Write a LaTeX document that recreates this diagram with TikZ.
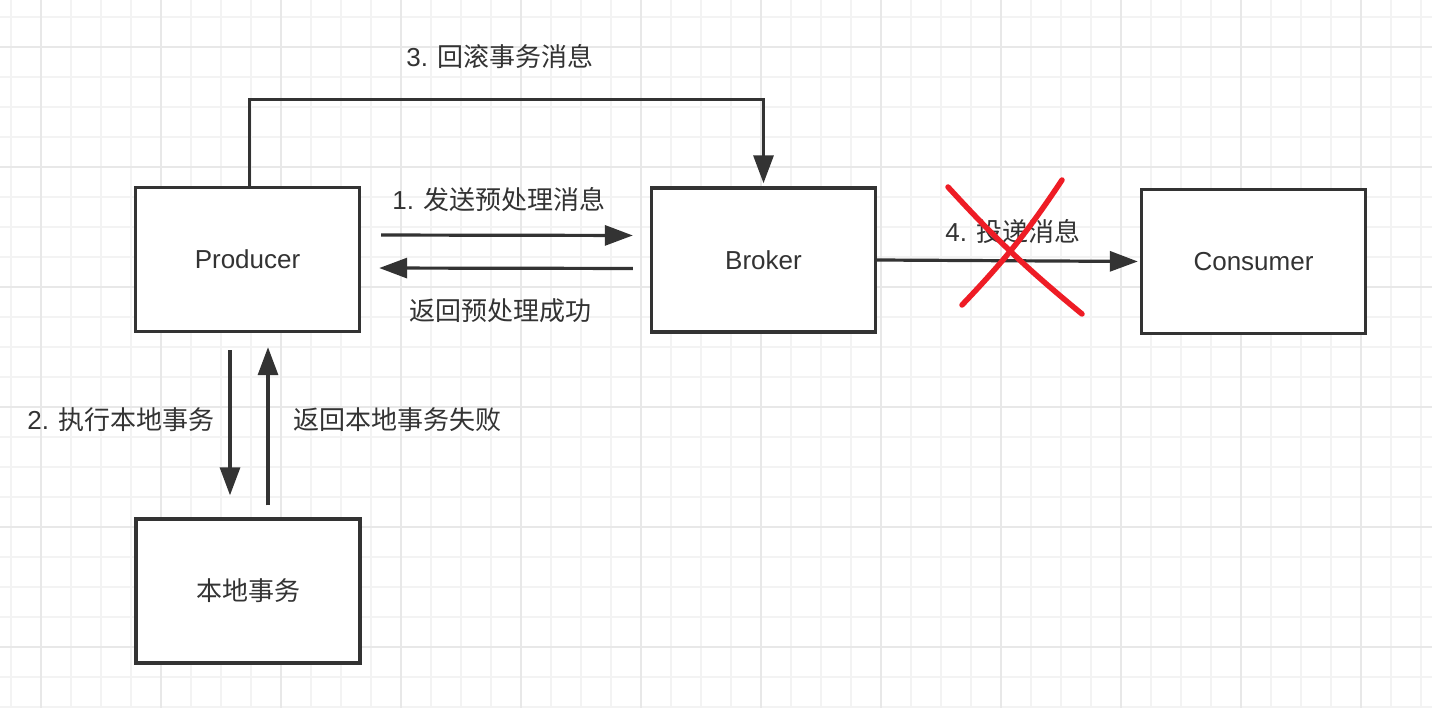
\documentclass[tikz,border=0pt]{standalone}
\usepackage{fontspec}
\setmainfont{Liberation Sans}
\newfontfamily\cjk{Noto Sans CJK SC}
\usetikzlibrary{arrows.meta}
\definecolor{ink}{HTML}{333333}
\definecolor{gridminor}{HTML}{F3F3F3}
\definecolor{gridmajor}{HTML}{E8E8E8}
\definecolor{xred}{HTML}{EE1C25}
\tikzset{
  box/.style={draw=ink, line width=3.4pt, fill=white, minimum width=224pt, minimum height=144pt, inner sep=0pt, text=ink, font=\fontsize{26}{30}\selectfont},
  lbl/.style={text=ink, inner sep=0pt, font=\fontsize{26}{30}\selectfont},
  arr/.style={draw=ink, line width=3.2pt, -{Triangle[length=28pt,width=20pt]}},
  redx/.style={draw=xred, line width=5.5pt, line cap=round},
}
\begin{document}
\begin{tikzpicture}[x=1pt,y=-1pt]
\useasboundingbox (0,0) rectangle (1432,708);
\fill[white] (0,0) rectangle (1432,708);
% grid
\foreach \gx in {11,41,...,1421} {\draw[gridminor, line width=1.8pt] (\gx,0) -- (\gx,708);}
\foreach \gy in {17,47,...,707} {\draw[gridminor, line width=1.8pt] (0,\gy) -- (1432,\gy);}
\foreach \gx in {41,161,...,1421} {\draw[gridmajor, line width=1.8pt] (\gx,0) -- (\gx,708);}
\foreach \gy in {47,167,...,707} {\draw[gridmajor, line width=1.8pt] (0,\gy) -- (1432,\gy);}

% boxes
\node[box] (P) at (247.5,259.5) {Producer};
\node[box] (B) at (763.5,260) {Broker};
\node[box] (C) at (1253.5,261.5) {Consumer};
\node[box] (L) at (248,591) {\cjk 本地事务};

% 1 / return
\draw[arr, shorten <=20pt, shorten >=17pt] ([yshift=24.5pt]P.east) -- ([yshift=24.5pt]B.west);
\draw[arr, shorten <=17pt, shorten >=18pt] ([yshift=-8.5pt]B.west) -- ([yshift=-8.5pt]P.east);
\node[lbl] (l1) at (499,200) {1. {\cjk 发送预处理消息}};
\node[lbl] (l1r) at (500,311) {\cjk 返回预处理成功};

% 2 / return
\draw[arr, shorten <=17pt, shorten >=22pt] ([xshift=-17.5pt]P.south) -- ([xshift=-18pt]L.north);
\draw[arr, shorten <=12pt, shorten >=14pt] ([xshift=20pt]L.north) -- ([xshift=20.5pt]P.south);
\node[lbl] (l2) at (121,420) {2. {\cjk 执行本地事务}};
\node[lbl] (l2r) at (397,420) {\cjk 返回本地事务失败};

% 3 rollback
\draw[arr, shorten >=3pt] ([xshift=2pt]P.north) -- ++(0,-86) -| (B.north);
\node[lbl] (l3) at (500,57) {3. {\cjk 回滚事务消息}};

% 4 deliver
\draw[arr, shorten >=2pt] (B.east) -- (C.west);
\node[lbl] (l4) at (1013,232) {4. {\cjk 投递消息}};

% red cross
\draw[redx] (948,187) to[bend right=4] (1082,314);
\draw[redx] (1062,180) to[bend left=5] (962,305);
\end{tikzpicture}
\end{document}
